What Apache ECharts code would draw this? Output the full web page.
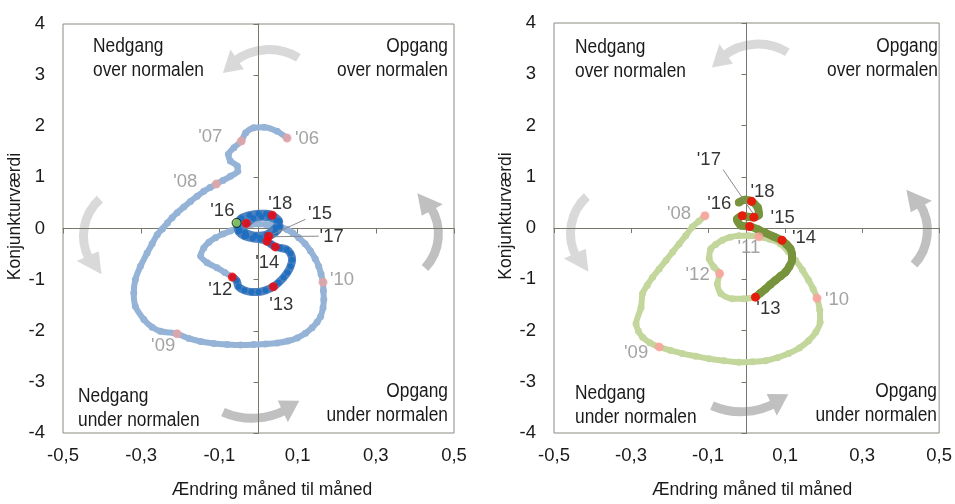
<!DOCTYPE html>
<html><head><meta charset="utf-8">
<script src="https://cdn.jsdelivr.net/npm/echarts@6/dist/echarts.min.js"></script>
<style>html,body{margin:0;padding:0;background:#fff}#c{width:955px;height:504px}</style>
</head><body><div id="c"></div>
<script>
// ---------------- data ----------------
const xTicks = [-0.5, -0.3, -0.1, 0.1, 0.3, 0.5];
const yMin = -4, yMax = 4;
const xName = 'Ændring måned til måned';
const yName = 'Konjunkturværdi';
const quadrantTexts = ['Nedgang\nover normalen', 'Opgang\nover normalen', 'Nedgang\nunder normalen', 'Opgang\nunder normalen'];

// Left panel: 2006-2012 (light) and 2012-2018 (dark)
const leftEarly = [[0.073,1.77],[0.048,1.90],[0.014,1.98],[-0.012,1.97],[-0.033,1.87],[-0.044,1.71],[-0.063,1.58],[-0.077,1.45],[-0.072,1.32],[-0.054,1.22],[-0.053,1.12],[-0.072,1.02],[-0.091,0.94],[-0.108,0.87],[-0.124,0.80],[-0.140,0.73],[-0.157,0.63],[-0.174,0.53],[-0.191,0.42],[-0.208,0.31],[-0.221,0.21],[-0.233,0.11],[-0.246,-0.01],[-0.259,-0.12],[-0.272,-0.30],[-0.285,-0.48],[-0.302,-0.74],[-0.315,-1.00],[-0.319,-1.26],[-0.315,-1.52],[-0.293,-1.78],[-0.272,-1.93],[-0.251,-2.01],[-0.208,-2.06],[-0.178,-2.15],[-0.148,-2.21],[-0.114,-2.25],[-0.080,-2.27],[-0.046,-2.28],[-0.012,-2.27],[0.018,-2.26],[0.048,-2.24],[0.075,-2.20],[0.099,-2.14],[0.120,-2.05],[0.137,-1.94],[0.150,-1.83],[0.159,-1.72],[0.165,-1.55],[0.167,-1.39],[0.166,-1.22],[0.165,-1.05],[0.160,-0.89],[0.154,-0.74],[0.145,-0.59],[0.133,-0.44],[0.119,-0.30],[0.103,-0.18],[0.088,-0.09],[0.073,-0.02],[0.056,0.03],[0.039,0.06],[0.020,0.08],[0.001,0.09],[-0.019,0.08],[-0.038,0.06],[-0.055,0.01],[-0.072,-0.05],[-0.091,-0.11],[-0.110,-0.18],[-0.127,-0.27],[-0.140,-0.38],[-0.148,-0.54],[-0.131,-0.67],[-0.106,-0.77],[-0.086,-0.86],[-0.067,-0.95]];
const leftLate = [[-0.067,-0.95],[-0.056,-1.02],[-0.051,-1.14],[-0.036,-1.21],[-0.018,-1.24],[0.000,-1.24],[0.018,-1.21],[0.038,-1.14],[0.051,-1.06],[0.064,-0.96],[0.074,-0.86],[0.082,-0.74],[0.086,-0.61],[0.082,-0.49],[0.072,-0.41],[0.056,-0.38],[0.043,-0.36],[0.033,-0.31],[0.022,-0.25],[0.005,-0.21],[-0.015,-0.19],[-0.036,-0.15],[-0.051,-0.06],[-0.054,0.06],[-0.031,0.10],[-0.013,0.20],[0.008,0.23],[0.028,0.22],[0.046,0.16],[0.054,0.04],[0.043,-0.08],[0.026,-0.15],[0.005,-0.18],[-0.031,-0.14],[-0.049,-0.04],[-0.054,0.08],[-0.044,0.20],[-0.023,0.26],[0.000,0.29],[0.020,0.29],[0.035,0.26],[0.053,0.14],[0.044,0.02],[0.020,-0.12],[-0.008,-0.14],[-0.034,-0.08],[-0.052,0.02],[-0.056,0.11]];
const leftOldYears = ["'06","'07","'08","'09","'10"];
const leftOldPts = [[0.073,1.77],[-0.044,1.71],[-0.108,0.87],[-0.208,-2.06],[0.165,-1.05]];
const leftNewYears = ["'12","'13","'14","'15","'16","'17","'18"];
const leftNewPts = [[-0.067,-0.95],[0.038,-1.14],[0.043,-0.36],[0.022,-0.25],[-0.031,0.10],[0.026,-0.15],[0.035,0.26]];
const leftLatest = [[-0.056,0.11]];
const leftLeaders = [[[0.029,-0.14],[0.120,0.18]], [[0.039,-0.16],[0.154,-0.15]]];

// Right panel: 2008-2013 (light) and 2013-2018 (dark)
const rightEarly = [[-0.108,0.24],[-0.124,0.13],[-0.141,0.02],[-0.158,-0.15],[-0.175,-0.31],[-0.192,-0.47],[-0.209,-0.63],[-0.227,-0.80],[-0.244,-0.96],[-0.258,-1.12],[-0.270,-1.28],[-0.274,-1.55],[-0.287,-1.87],[-0.281,-2.01],[-0.270,-2.13],[-0.251,-2.24],[-0.227,-2.32],[-0.197,-2.39],[-0.167,-2.45],[-0.132,-2.50],[-0.097,-2.55],[-0.058,-2.59],[-0.020,-2.62],[0.015,-2.61],[0.049,-2.59],[0.080,-2.53],[0.109,-2.45],[0.137,-2.34],[0.161,-2.20],[0.180,-2.03],[0.191,-1.84],[0.190,-1.60],[0.183,-1.37],[0.173,-1.19],[0.161,-1.02],[0.145,-0.82],[0.127,-0.63],[0.108,-0.46],[0.088,-0.31],[0.060,-0.22],[0.032,-0.17],[0.006,-0.15],[-0.020,-0.15],[-0.043,-0.18],[-0.063,-0.24],[-0.080,-0.32],[-0.093,-0.41],[-0.097,-0.60],[-0.085,-0.76],[-0.070,-0.89],[-0.076,-1.09],[-0.067,-1.28],[-0.037,-1.38],[-0.007,-1.38],[0.023,-1.35]];
const rightLate = [[0.023,-1.35],[0.036,-1.27],[0.049,-1.19],[0.062,-1.10],[0.075,-1.02],[0.088,-0.94],[0.101,-0.86],[0.111,-0.75],[0.118,-0.63],[0.118,-0.52],[0.114,-0.41],[0.104,-0.32],[0.092,-0.24],[0.071,-0.17],[0.047,-0.09],[0.027,-0.02],[0.008,0.03],[-0.015,0.05],[-0.025,0.17],[-0.011,0.24],[0.003,0.22],[0.019,0.21],[0.032,0.26],[0.029,0.40],[0.013,0.52],[-0.004,0.55],[-0.020,0.50]];
const rightOldYears = ["'08","'09","'10","'11","'12"];
const rightOldPts = [[-0.108,0.24],[-0.227,-2.32],[0.183,-1.37],[0.032,-0.17],[-0.070,-0.89]];
const rightNewYears = ["'13","'14","'15","'16","'17","'18"];
const rightNewPts = [[0.023,-1.35],[0.092,-0.24],[0.008,0.03],[-0.011,0.24],[0.019,0.21],[0.013,0.52]];
const rightLeaders = [[[0.019,0.26],[-0.061,1.14]]];

// ---------------- layout / style (not data) ----------------
const FONT = "'Liberation Sans', Arial, Helvetica, sans-serif";
const FS = 18.5;      // tick & year labels
const FS_NAME = 17.5; // axis names
const FS_Q = 19.5;    // quadrant texts (narrowed with scaleX)
const BORDER = '#8c8c80';
const ZERO = '#77776a';
const GRAY_TXT = '#8c8c8c';
const grids = [
  {left: 63, top: 24, width: 391, height: 409},
  {left: 554, top: 23, width: 387, height: 410}
];
const labelOffsets = {
  leftOld: [[20,1],[-31,-4],[-31,-2],[-14,12],[19,-2]],
  leftNew: [[-12,13],[8,18],[-8,16],[53,-27],[-24,-12],[63,1],[8,-11]],
  rightOld: [[-26,-2],[-23,6],[20,2],[-10,11],[-22,1]],
  rightNew: [[13,12],[22,-2],[33,-9],[-23,-12],[-45,-57],[11,-9]]
};

function fmt(v){ return (Math.round(v*10)/10).toFixed(1).replace('.', ','); }

function makeXAxes(gi, namePad){
  return [
    {gridIndex: gi, type: 'value', min: -0.5, max: 0.5, position: 'bottom',
     axisLine: {show: false, onZero: false}, axisTick: {show: false}, splitLine: {show: false},
     axisLabel: {customValues: xTicks, formatter: fmt, margin: 13, fontSize: FS, color: '#1a1a1a', fontFamily: FONT},
     name: xName, nameLocation: 'middle', nameGap: 48,
     nameTextStyle: {fontSize: FS_NAME, color: '#1a1a1a', fontFamily: FONT, padding: [0,0,0,namePad]}},
    {gridIndex: gi, type: 'value', min: -0.5, max: 0.5, position: 'bottom',
     axisLine: {show: true, onZero: true, lineStyle: {color: ZERO, width: 1}},
     axisTick: {show: true, customValues: xTicks, length: 5, lineStyle: {color: ZERO}},
     axisLabel: {show: false}, splitLine: {show: false}}
  ];
}
function makeYAxes(gi, gap){
  return [
    {gridIndex: gi, type: 'value', min: yMin, max: yMax, interval: 1, position: 'left',
     axisLine: {show: false, onZero: false}, axisTick: {show: false}, splitLine: {show: false},
     axisLabel: {margin: 18, fontSize: FS, color: '#1a1a1a', fontFamily: FONT},
     name: yName, nameLocation: 'middle', nameGap: gap,
     nameTextStyle: {fontSize: FS_NAME, color: '#1a1a1a', fontFamily: FONT, padding: [0,0,0,24]}},
    {gridIndex: gi, type: 'value', min: yMin, max: yMax, interval: 1, position: 'left',
     axisLine: {show: true, onZero: true, lineStyle: {color: ZERO, width: 1}},
     axisTick: {show: true, length: 5, lineStyle: {color: ZERO}},
     axisLabel: {show: false}, splitLine: {show: false}}
  ];
}

function pathSeries(gi, data, lineColor, dotColor, width, dot, z){
  return {type: 'line', xAxisIndex: gi*2, yAxisIndex: gi*2, data: data, symbol: 'circle', symbolSize: dot,
    showSymbol: true, smooth: 0.25, lineStyle: {color: lineColor, width: width}, itemStyle: {color: dotColor},
    z: z, silent: true, animation: false};
}
function yearSeries(gi, pts, names, offsets, color, txtColor, z){
  return {type: 'scatter', xAxisIndex: gi*2, yAxisIndex: gi*2, symbol: 'circle', symbolSize: 9, z: z,
    itemStyle: {color: color}, silent: true, animation: false,
    data: pts.map((p, i) => ({value: p, name: names[i],
      label: {show: true, position: 'inside', formatter: '{b}', offset: offsets[i],
              color: txtColor, fontSize: FS, fontFamily: FONT}}))};
}
function leaderSeries(gi, segs){
  return segs.map(s => ({type: 'line', xAxisIndex: gi*2, yAxisIndex: gi*2, data: s, symbol: 'none',
    lineStyle: {color: '#8a8a8a', width: 1}, z: 4, silent: true, animation: false}));
}

// curved quadrant arrows (decoration), relative to grid centre
const arrowSpecs = [
  {c:[10.5,-121.9], r:57, tail:-59, base:-124, tip:-144, color:'#d9d9d9', shift:[0,-5]},
  {c:[-125.5,7.5], r:49.5, tail:228, base:156, tip:129.5, color:'#d9d9d9', shift:[-2,-2]},
  {c:[-6.3,117.3], r:72.4, tail:113.8, base:65, tip:49.4, color:'#c0c0c0', shift:[0,-6]},
  {c:[129.9,5.5], r:50, tail:42.9, base:-28.6, tip:-54.6, color:'#c0c0c0', shift:[0,-3]}
];
function arrowGraphics(g, pi){
  const cx0 = g.left + g.width/2, cy0 = g.top + g.height/2;
  const out = [];
  const d = Math.PI/180, hw = 12;
  arrowSpecs.forEach(a => {
    const sx = pi ? a.shift[0] : 0, sy = pi ? a.shift[1] : 0;
    const cx = cx0 + a.c[0] + sx, cy = cy0 + a.c[1] + sy;
    out.push({type: 'arc', z: -10, silent: true,
      shape: {cx: cx, cy: cy, r: a.r, startAngle: (a.base - 4)*d, endAngle: a.tail*d, clockwise: true},
      style: {stroke: a.color, lineWidth: 9, fill: 'none'}});
    const b = a.base*d, t = a.tip*d;
    out.push({type: 'polygon', z: -10, silent: true,
      shape: {points: [
        [cx + (a.r+hw)*Math.cos(b), cy + (a.r+hw)*Math.sin(b)],
        [cx + (a.r-hw)*Math.cos(b), cy + (a.r-hw)*Math.sin(b)],
        [cx + a.r*Math.cos(t), cy + a.r*Math.sin(t)]]},
      style: {fill: a.color}});
  });
  return out;
}
const quadPos = [
  // [x, y, align] for TL, TR, BL, BR
  [[93,35,'left'],[448,35,'right'],[78,385,'left'],[448,380,'right']],
  [[575,36,'left'],[938,35,'right'],[575,382,'left'],[937,380,'right']]
];
function quadGraphics(pi){
  return quadPos[pi].map((q, i) => ({type: 'text', x: q[0], y: q[1], scaleX: 0.89, scaleY: 1, z: 10, silent: true,
    style: {x: 0, y: 0, text: quadrantTexts[i], fill: '#1a1a1a', fontSize: FS_Q, fontFamily: FONT, lineHeight: 23.5,
            align: q[2], textAlign: q[2], verticalAlign: 'top', textVerticalAlign: 'top'}}));
}

const chart = echarts.init(document.getElementById('c'), null, {renderer: 'canvas'});
chart.setOption({
  animation: false,
  backgroundColor: '#ffffff',
  grid: grids.map(g => Object.assign({show: true, borderColor: BORDER, borderWidth: 1, backgroundColor: 'transparent', containLabel: false}, g)),
  xAxis: [...makeXAxes(0, 27), ...makeXAxes(1, 11)],
  yAxis: [...makeYAxes(0, 24), ...makeYAxes(1, 30)],
  series: [
    pathSeries(0, leftEarly, '#95b3d7', '#95b3d7', 6, 7, 2),
    pathSeries(0, leftLate, '#4f81bd', '#1f6fc0', 8, 6, 3),
    ...leaderSeries(0, leftLeaders),
    yearSeries(0, leftOldPts, leftOldYears, labelOffsets.leftOld, '#e8a2a2', GRAY_TXT, 5),
    yearSeries(0, leftNewPts, leftNewYears, labelOffsets.leftNew, '#ff0000', '#000000', 6),
    {type: 'scatter', xAxisIndex: 0, yAxisIndex: 0, data: leftLatest, symbol: 'circle', symbolSize: 9, z: 7,
     itemStyle: {color: '#92d050', borderColor: '#000', borderWidth: 1}, silent: true, animation: false},
    pathSeries(1, rightEarly, '#c3d69b', '#c3d69b', 6, 7, 2),
    pathSeries(1, rightLate, '#77933c', '#77933c', 8, 8, 3),
    ...leaderSeries(1, rightLeaders),
    yearSeries(1, rightOldPts, rightOldYears, labelOffsets.rightOld, '#ff9d9d', GRAY_TXT, 5),
    yearSeries(1, rightNewPts, rightNewYears, labelOffsets.rightNew, '#ff0000', '#000000', 6)
  ],
  graphic: [...arrowGraphics(grids[0], 0), ...arrowGraphics(grids[1], 1), ...quadGraphics(0), ...quadGraphics(1)]
});
</script></body></html>
